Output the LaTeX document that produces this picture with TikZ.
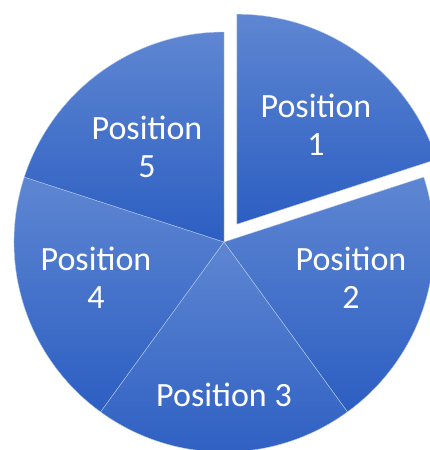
\documentclass[tikz,border=0pt]{standalone}
\usepackage{fontspec}
\setmainfont{Carlito}
\usepackage{xcolor}
\usepackage{tikz}
\usetikzlibrary{calc}
\definecolor{pietop}{RGB}{94, 134, 210}
\definecolor{piebottom}{RGB}{44, 94, 194}

\begin{document}
\begin{tikzpicture}[x=1pt, y=1pt,
  slice/.style={top color=pietop, bottom color=piebottom, draw=white!55!pietop, line width=0.4pt},
  label/.style={text=white, align=center, font=\fontsize{34}{38}\selectfont, inner sep=0pt}]
\useasboundingbox (0,0) rectangle (430,450);
\clip (0,0) rectangle (430,450);

\coordinate (c) at (224,208);
\coordinate (c1) at ($(c)+(54:22)$);

% slices 2 to 5 around the centre
\foreach \a/\b in {-54/18, -126/-54, 162/234, 90/162}
  \shade[slice] (c) -- ++(\a:210) arc[start angle=\a, end angle=\b, radius=210] -- cycle;

% slice 1 pulled out
\shade[slice] (c1) -- ++(18:210) arc[start angle=18, end angle=90, radius=210] -- cycle;

\node[label] (pos1) at (316,325) {Position\\1};
\node[label] (pos2) at (351,172) {Position\\2};
\node[label] (pos3) at (224,55) {Position 3};
\node[label] (pos4) at (96,172) {Position\\4};
\node[label] (pos5) at (147,303) {Position\\5};
\end{tikzpicture}
\end{document}
